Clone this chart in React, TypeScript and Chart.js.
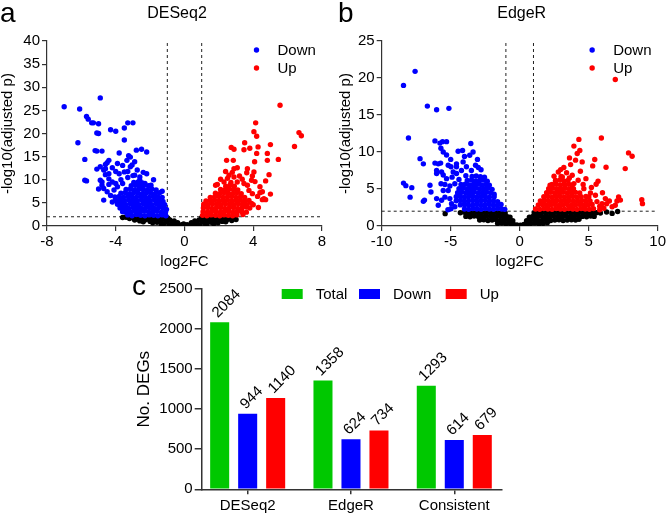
import React, { useEffect, useRef } from "react";
import { Chart, registerables } from "chart.js";
Chart.register(...registerables);

const FONT = '"Liberation Sans", Arial, Helvetica, sans-serif';
Chart.defaults.font.family = FONT;
Chart.defaults.font.size = 15;
Chart.defaults.color = "#000";

// cut-offs drawn as dashed lines
const log2fcCutoff = 1;
const padjLine = 2;

// ---------- DESeq2 volcano ----------
const deseqDown: number[][] = [
  [-7.0, 25.8], [-4.9, 27.7], [-6.1, 25.3], [-5.7, 23.7], [-5.6, 23.1], [-5.4, 22.3], [-5.3, 22.3], [-5.0, 22.1],
  [-5.1, 20.1], [-5.0, 20.0], [-4.3, 20.8], [-4.0, 20.5], [-3.5, 21.2], [-3.3, 22.3], [-3.0, 22.3], [-3.5, 18.6],
  [-6.2, 18.0], [-5.2, 16.3], [-5.1, 16.2], [-4.8, 16.2], [-5.8, 14.4], [-2.8, 16.4], [-2.5, 16.6], [-2.2, 16.0],
  [-3.8, 15.8], [-3.25, 15.2], [-3.15, 14.9], [-4.4, 14.2], [-4.5, 13.7], [-4.6, 13.3], [-4.9, 12.8], [-5.1, 12.3],
  [-2.9, 13.9], [-3.15, 12.8], [-5.8, 9.9], [-5.7, 9.75], [-4.7, 5.6], [-1.3, 7.5], [-3.44, 3.0], [-3.3, 2.8],
  [-4.7, 12.1], [-4.6, 12.4], [-4.2, 12.6], [-4.0, 11.8], [-3.8, 11.3], [-3.5, 11.7], [-2.75, 12.1], [-2.4, 11.6],
  [-2.2, 11.3], [-2.6, 10.6], [-4.9, 9.9], [-4.8, 9.5], [-4.4, 10.2], [-4.2, 9.5], [-4.0, 9.2], [-4.6, 11.1],
  [-4.4, 11.3], [-1.8, 10.0], [-1.95, 8.8], [-2.3, 9.2], [-4.2, 5.2], [-4.0, 5.6], [-4.3, 6.6], [-4.5, 7.4],
  [-4.7, 8.1], [-4.8, 8.8], [-3.6, 3.75], [-3.8, 4.8], [-3.35, 14.2], [-3.05, 13.2], [-3.6, 13.1], [-3.9, 13.5],
  [-3.3, 10.5], [-3.0, 10.9], [-2.6, 9.9], [-3.7, 10.0], [-3.9, 8.5], [-4.1, 7.8], [-3.3, 11.8], [-2.9, 11.0],
  [-5.0, 8.0], [-4.4, 9.0], [-3.6, 9.2],
  [-3.3, 2.4], [-3.05, 2.2], [-2.8, 2.5], [-2.55, 2.3], [-2.3, 2.2], [-2.05, 2.4], [-1.8, 2.3], [-1.55, 2.2], [-1.3, 2.4], [-1.08, 2.2],
  [-3.6, 3.1], [-3.35, 3.3], [-3.1, 3.0], [-2.85, 3.2], [-2.6, 3.0], [-2.35, 3.2], [-2.1, 3.1], [-1.85, 3.0], [-1.6, 3.2], [-1.35, 3.0], [-1.1, 3.1],
  [-3.75, 3.9], [-3.5, 4.0], [-3.25, 3.8], [-3.0, 4.0], [-2.75, 3.9], [-2.5, 3.8], [-2.25, 4.0], [-2.0, 3.9], [-1.75, 3.8], [-1.5, 4.0], [-1.25, 3.9], [-1.05, 3.6],
  [-3.9, 4.7], [-3.65, 4.8], [-3.4, 4.6], [-3.15, 4.8], [-2.9, 4.7], [-2.65, 4.6], [-2.4, 4.8], [-2.15, 4.7], [-1.9, 4.6], [-1.65, 4.8], [-1.4, 4.7], [-1.15, 4.6],
  [-4.0, 5.5], [-3.75, 5.6], [-3.5, 5.4], [-3.25, 5.6], [-3.0, 5.5], [-2.75, 5.4], [-2.5, 5.6], [-2.25, 5.5], [-2.0, 5.4], [-1.75, 5.6], [-1.5, 5.5], [-1.25, 5.3],
  [-4.05, 6.3], [-3.8, 6.4], [-3.55, 6.2], [-3.3, 6.4], [-3.05, 6.3], [-2.8, 6.2], [-2.55, 6.4], [-2.3, 6.3], [-2.05, 6.2], [-1.8, 6.4], [-1.55, 6.3], [-1.3, 6.2],
  [-3.7, 7.1], [-3.45, 7.2], [-3.2, 7.0], [-2.95, 7.2], [-2.7, 7.1], [-2.45, 7.0], [-2.2, 7.2], [-1.95, 7.1], [-1.7, 7.0], [-1.45, 7.2],
  [-3.4, 7.9], [-3.15, 8.0], [-2.9, 7.8], [-2.65, 8.0], [-2.4, 7.9], [-2.15, 7.8], [-1.9, 8.0], [-1.65, 7.8],
  [-3.1, 8.7], [-2.85, 8.8], [-2.6, 8.6], [-2.35, 8.8], [-2.1, 8.7],
  [-2.95, 9.4], [-2.7, 9.5], [-2.45, 9.3],
];

const deseqUp: number[][] = [
  [5.56, 26.1], [4.14, 22.3], [4.04, 20.4], [4.2, 19.4], [6.66, 20.2], [6.8, 19.5], [6.4, 17.2], [2.72, 17.0],
  [2.88, 16.6], [3.5, 18.0], [5.0, 17.6], [3.46, 16.5], [3.8, 16.8], [4.28, 17.1], [4.2, 15.7], [4.82, 15.7],
  [5.46, 14.4], [4.82, 14.2], [2.84, 14.2], [2.45, 14.2], [4.08, 13.9], [3.07, 12.6], [3.66, 12.4], [2.39, 11.8],
  [3.62, 11.5], [3.95, 10.8], [4.92, 11.1], [4.72, 9.75], [5.0, 6.9], [4.53, 5.7], [4.72, 5.7],
  [2.59, 11.0], [2.78, 11.6], [2.88, 10.6], [2.3, 9.5], [1.91, 9.0], [1.81, 8.8], [4.39, 8.5], [4.53, 7.4],
  [4.39, 7.2], [3.07, 9.5], [3.36, 10.1], [3.66, 8.8], [3.75, 7.7], [3.95, 7.0], [4.04, 11.7], [3.46, 9.2],
  [2.88, 12.4], [4.62, 5.9], [3.2, 10.8], [2.5, 10.3], [4.1, 9.6], [3.9, 9.9], [2.1, 10.1], [4.25, 6.4],
  [4.0, 4.6], [3.8, 3.9], [3.6, 3.0], [3.4, 2.5], [4.3, 4.0],
  [1.05, 2.3], [1.3, 2.2], [1.55, 2.4], [1.8, 2.3], [2.05, 2.2], [2.3, 2.4], [2.55, 2.3], [2.8, 2.2], [3.05, 2.4],
  [1.08, 3.1], [1.33, 3.0], [1.58, 3.2], [1.83, 3.1], [2.08, 3.0], [2.33, 3.2], [2.58, 3.1], [2.83, 3.0], [3.08, 3.2], [3.33, 3.1],
  [1.1, 3.9], [1.35, 4.0], [1.6, 3.8], [1.85, 3.9], [2.1, 4.0], [2.35, 3.8], [2.6, 3.9], [2.85, 4.0], [3.1, 3.8], [3.35, 3.9], [3.6, 4.1],
  [1.12, 4.7], [1.37, 4.6], [1.62, 4.8], [1.87, 4.7], [2.12, 4.6], [2.37, 4.8], [2.62, 4.7], [2.87, 4.6], [3.12, 4.8], [3.37, 4.7], [3.62, 4.6], [3.9, 4.9],
  [1.25, 5.4], [1.5, 5.5], [1.75, 5.6], [2.0, 5.4], [2.25, 5.5], [2.5, 5.6], [2.75, 5.4], [3.0, 5.5], [3.25, 5.6], [3.5, 5.4], [3.75, 5.5],
  [1.5, 6.2], [1.75, 6.3], [2.0, 6.4], [2.25, 6.2], [2.5, 6.3], [2.75, 6.4], [3.0, 6.2], [3.25, 6.3], [3.5, 6.2],
  [1.8, 7.1], [2.05, 7.0], [2.3, 7.2], [2.55, 7.1], [2.8, 7.0], [3.05, 7.2], [3.3, 7.0],
  [2.1, 7.9], [2.35, 7.8], [2.6, 8.0], [2.85, 7.9], [3.1, 7.8],
  [2.4, 8.6], [2.65, 8.8], [2.9, 8.6], [2.7, 9.4],
];

const deseqNS: number[][] = [
  [-3.4, 1.9], [-3.2, 1.6], [-3.0, 1.8], [-2.75, 1.5], [-2.5, 1.85], [-2.3, 1.3], [-2.25, 1.75], [-2.0, 1.0],
  [-2.0, 1.8], [-1.8, 1.4], [-1.75, 1.9], [-1.6, 0.8], [-1.55, 1.6], [-1.4, 1.1], [-1.3, 1.85], [-1.2, 0.5],
  [-1.15, 1.45], [-1.05, 0.9], [-1.0, 1.8], [-0.9, 0.3], [-0.85, 1.3], [-0.7, 0.7], [-0.6, 1.1], [-0.5, 0.3],
  [-0.4, 0.7], [-0.3, 0.15], [-0.15, 0.3], [0, 0.05], [0.15, 0.3], [0.3, 0.15], [0.4, 0.7], [0.5, 0.3],
  [0.6, 1.1], [0.7, 0.6], [0.85, 1.3], [0.9, 0.3], [1.0, 1.8], [1.05, 0.9], [1.15, 1.5], [1.2, 0.5],
  [1.35, 1.1], [1.4, 1.8], [1.55, 0.8], [1.6, 1.5], [1.75, 1.1], [1.85, 1.8], [1.95, 0.7], [2.05, 1.4],
  [2.2, 1.0], [2.3, 1.7], [2.45, 1.3], [2.6, 1.6], [2.75, 1.2], [2.9, 1.6], [3.0, 1.4],
  [-2.9, 1.3], [-2.6, 1.1], [-2.4, 0.9], [-1.85, 0.7], [-1.35, 0.4], [-0.95, 1.6], [-0.75, 0.2], [0.75, 0.2],
  [1.3, 0.4], [1.7, 0.5], [2.0, 1.85], [2.4, 0.9], [2.7, 1.85], [1.65, 1.9], [1.25, 1.85], [-1.5, 1.95],
  [-2.1, 1.45], [-3.6, 1.85], [-0.05, 0.45],
];

// ---------- EdgeR volcano ----------
const edgerDown: number[][] = [
  [-7.58, 20.9], [-8.42, 19.0], [-6.69, 16.2], [-6.02, 15.7], [-5.13, 15.9], [-8.06, 11.9], [-6.14, 11.5], [-5.78, 11.2],
  [-5.59, 11.4], [-5.3, 11.4], [-5.71, 10.5], [-5.54, 10.0], [-5.3, 9.6], [-4.46, 10.1], [-4.14, 10.2], [-3.54, 11.15],
  [-3.38, 10.0], [-3.62, 9.57], [-3.06, 9.0], [-7.22, 9.1], [-6.98, 8.4], [-6.14, 8.5], [-5.9, 8.4], [-5.73, 8.5],
  [-5.18, 8.2], [-4.98, 8.0], [-4.58, 8.4], [-4.1, 8.66], [-6.02, 7.5], [-6.02, 7.1], [-5.66, 7.3], [-5.54, 6.9],
  [-8.42, 5.8], [-8.25, 5.45], [-7.82, 5.18], [-7.94, 3.9], [-6.98, 3.33], [-6.43, 4.6],
  [-4.82, 7.3], [-4.58, 7.1], [-4.22, 7.5], [-3.86, 8.0], [-3.5, 7.5], [-5.7, 5.7], [-5.42, 5.6], [-5.06, 5.4],
  [-4.7, 5.7], [-6.02, 3.7], [-5.66, 3.47], [-5.42, 3.9], [-5.06, 3.7], [-4.94, 3.0], [-4.98, 2.34], [-5.54, 4.8],
  [-5.18, 4.8], [-4.46, 4.37], [-4.58, 8.0], [-6.9, 3.5], [-5.3, 6.4], [-4.9, 6.6], [-4.4, 6.3], [-3.2, 8.2],
  [-2.8, 7.6], [-3.0, 7.9], [-3.9, 6.8], [-4.0, 9.4], [-5.0, 9.0], [-6.5, 5.5], [-5.9, 2.8], [-4.7, 2.6], [-5.2, 2.2],
  [-4.0, 2.3], [-3.7, 2.25], [-3.4, 2.35], [-3.1, 2.3], [-2.8, 2.25], [-2.5, 2.35], [-2.2, 2.3], [-1.9, 2.25], [-1.6, 2.35], [-1.3, 2.3], [-1.08, 2.25],
  [-4.3, 2.85], [-4.0, 2.9], [-3.7, 2.8], [-3.4, 2.85], [-3.1, 2.9], [-2.8, 2.8], [-2.5, 2.85], [-2.2, 2.9], [-1.9, 2.8], [-1.6, 2.85], [-1.35, 2.9],
  [-4.6, 3.4], [-4.3, 3.45], [-4.0, 3.35], [-3.7, 3.4], [-3.4, 3.45], [-3.1, 3.35], [-2.8, 3.4], [-2.5, 3.45], [-2.2, 3.35], [-1.9, 3.4], [-1.6, 3.3],
  [-4.6, 3.95], [-4.3, 4.0], [-4.0, 3.9], [-3.7, 3.95], [-3.4, 4.0], [-3.1, 3.9], [-2.8, 3.95], [-2.5, 4.0], [-2.2, 3.9], [-1.85, 3.95],
  [-4.5, 4.5], [-4.2, 4.55], [-3.9, 4.45], [-3.6, 4.5], [-3.3, 4.55], [-3.0, 4.45], [-2.7, 4.5], [-2.4, 4.55], [-2.1, 4.45], [-1.85, 4.3],
  [-4.4, 5.05], [-4.1, 5.1], [-3.8, 5.0], [-3.5, 5.05], [-3.2, 5.1], [-2.9, 5.0], [-2.6, 5.05], [-2.3, 5.1], [-2.0, 4.95],
  [-4.25, 5.6], [-3.95, 5.65], [-3.65, 5.55], [-3.35, 5.6], [-3.05, 5.65], [-2.75, 5.55], [-2.45, 5.6], [-2.2, 5.5],
  [-3.8, 6.15], [-3.5, 6.2], [-3.2, 6.1], [-2.9, 6.15], [-2.6, 6.2], [-2.35, 6.05],
  [-3.45, 6.7], [-3.15, 6.75], [-2.85, 6.65], [-2.55, 6.6],
];

const edgerUp: number[][] = [
  [6.93, 19.8], [4.29, 11.7], [5.92, 11.9], [3.93, 10.8], [4.36, 10.2], [4.17, 9.79], [3.61, 9.2], [4.05, 8.9],
  [4.53, 8.66], [3.69, 8.3], [5.44, 8.98], [5.29, 8.12], [6.26, 7.94], [7.89, 9.88], [8.15, 9.43], [7.65, 7.76],
  [2.97, 7.62], [2.8, 7.3], [2.49, 6.72], [3.09, 6.63], [5.68, 6.05], [5.54, 5.64], [6.21, 3.7], [6.5, 3.38],
  [7.17, 3.92], [7.05, 3.38], [6.93, 2.8], [8.85, 3.56], [8.9, 3.02], [5.8, 2.66],
  [3.81, 6.86], [4.24, 6.18], [3.93, 5.73], [4.65, 5.05], [5.13, 4.46], [5.49, 4.15], [5.01, 3.92], [5.97, 3.02],
  [6.0, 4.5], [6.3, 3.0], [5.6, 3.3], [6.7, 2.6], [7.3, 3.5], [3.4, 7.2], [3.2, 7.9], [4.4, 7.4], [4.8, 6.4],
  [4.6, 5.6], [5.2, 5.2], [3.6, 6.5], [2.6, 6.1], [2.2, 5.5], [5.8, 2.2], [6.1, 2.4],
  [1.15, 2.3], [1.45, 2.25], [1.75, 2.35], [2.05, 2.3], [2.35, 2.25], [2.65, 2.35], [2.95, 2.3], [3.25, 2.25], [3.55, 2.35], [3.85, 2.3], [4.15, 2.25], [4.45, 2.35], [4.75, 2.3], [5.05, 2.25], [5.35, 2.35],
  [1.35, 2.85], [1.65, 2.9], [1.95, 2.8], [2.25, 2.85], [2.55, 2.9], [2.85, 2.8], [3.15, 2.85], [3.45, 2.9], [3.75, 2.8], [4.05, 2.85], [4.35, 2.9], [4.65, 2.8], [4.95, 2.85], [5.25, 2.9],
  [1.5, 3.4], [1.8, 3.45], [2.1, 3.35], [2.4, 3.4], [2.7, 3.45], [3.0, 3.35], [3.3, 3.4], [3.6, 3.45], [3.9, 3.35], [4.2, 3.4], [4.5, 3.45], [4.8, 3.35], [5.1, 3.4],
  [1.75, 3.95], [2.05, 4.0], [2.35, 3.9], [2.65, 3.95], [2.95, 4.0], [3.25, 3.9], [3.55, 3.95], [3.85, 4.0], [4.15, 3.9], [4.45, 3.95], [4.8, 4.0],
  [1.95, 4.5], [2.25, 4.55], [2.55, 4.45], [2.85, 4.5], [3.15, 4.55], [3.45, 4.45], [3.75, 4.5], [4.05, 4.55], [4.35, 4.45],
  [2.1, 5.05], [2.4, 5.1], [2.7, 5.0], [3.0, 5.05], [3.3, 5.1], [3.6, 5.0], [3.9, 5.05],
  [2.35, 5.6], [2.65, 5.65], [2.95, 5.55], [3.25, 5.6], [3.55, 5.65], [3.8, 5.55],
  [2.6, 6.15], [2.9, 6.2], [3.2, 6.1], [3.5, 6.15], [3.0, 6.7],
];

const edgerNS: number[][] = [
  [-4.3, 1.8], [-4.0, 1.85], [-3.7, 1.75], [-3.4, 1.8], [-3.1, 1.85], [-2.8, 1.75], [-2.5, 1.8], [-2.2, 1.85], [-1.9, 1.75], [-1.6, 1.8], [-1.3, 1.85], [-1.05, 1.75],
  [1.05, 1.8], [1.35, 1.75], [1.65, 1.85], [1.95, 1.8], [2.25, 1.75], [2.55, 1.85], [2.85, 1.8], [3.15, 1.75], [3.45, 1.85], [3.75, 1.8], [4.05, 1.75], [4.35, 1.85], [4.65, 1.8], [4.95, 1.75], [5.25, 1.85], [5.55, 1.8], [5.85, 1.75],
  [6.3, 1.9], [6.7, 1.7], [7.1, 1.95], [-5.4, 1.67],
  [-3.9, 1.3], [-3.6, 1.25], [-3.3, 1.35], [-3.0, 1.3], [-2.7, 1.25], [-2.4, 1.35], [-2.1, 1.3], [-1.8, 1.25], [-1.5, 1.35], [-1.2, 1.3], [-0.9, 1.25], [-0.7, 1.2],
  [0.7, 1.2], [0.95, 1.3], [1.25, 1.25], [1.55, 1.35], [1.85, 1.3], [2.15, 1.25], [2.45, 1.35], [2.75, 1.3], [3.05, 1.25], [3.35, 1.35], [3.65, 1.3], [3.95, 1.25], [4.25, 1.35], [4.55, 1.3], [4.85, 1.25], [5.15, 1.35], [5.4, 1.3],
  [-2.9, 0.8], [-2.6, 0.85], [-2.3, 0.75], [-2.0, 0.8], [-1.7, 0.85], [-1.4, 0.75], [-1.1, 0.8], [-0.8, 0.85], [-0.5, 0.7],
  [0.5, 0.7], [0.75, 0.8], [1.05, 0.85], [1.35, 0.75], [1.65, 0.8], [1.95, 0.85], [2.25, 0.75], [2.55, 0.8], [2.85, 0.85], [3.15, 0.75], [3.45, 0.8], [3.75, 0.85], [4.05, 0.8], [4.3, 0.9],
  [-1.6, 0.35], [-1.3, 0.4], [-1.0, 0.3], [-0.7, 0.35], [-0.45, 0.25], [-0.2, 0.15], [0.05, 0.1], [0.3, 0.2], [0.55, 0.3], [0.8, 0.35], [1.1, 0.4], [1.4, 0.3], [1.7, 0.35], [2.0, 0.45],
  [-0.1, 0.05], [0.15, 0.05],
];

// ---------- DEG counts ----------
const barCategories = ["DESeq2", "EdgeR", "Consistent"];
const totalDEGs = [2084, 1358, 1293];
const downDEGs = [944, 624, 614];
const upDEGs = [1140, 734, 679];

// ---------- plugins ----------
const panelTextPlugin = {
  id: "panelText",
  afterDraw(chart: any, _a: any, opts: any) {
    const ctx = chart.ctx;
    const items = opts.items || [];
    for (let i = 0; i < items.length; i++) {
      const it = items[i];
      ctx.save();
      ctx.font = it.font;
      ctx.fillStyle = "#000";
      ctx.textAlign = it.align;
      ctx.textBaseline = "alphabetic";
      ctx.fillText(it.text, it.x, it.y);
      ctx.restore();
    }
  },
};

const dotLegendPlugin = {
  id: "dotLegend",
  afterDraw(chart: any, _a: any, opts: any) {
    if (!opts.show) return;
    const { ctx, chartArea } = chart;
    for (let i = 0; i < 2; i++) {
      const ds = chart.data.datasets[i];
      const y = chartArea.top + 9 + i * 18;
      ctx.save();
      ctx.fillStyle = ds.backgroundColor;
      ctx.beginPath();
      ctx.arc(chartArea.right - 65.5, y, 2.7, 0, Math.PI * 2);
      ctx.fill();
      ctx.fillStyle = "#000";
      ctx.font = `15px ${FONT}`;
      ctx.textAlign = "left";
      ctx.textBaseline = "middle";
      ctx.fillText(ds.label, chartArea.right - 44.5, y + 1);
      ctx.restore();
    }
  },
};

const barLegendPlugin = {
  id: "barLegend",
  afterDraw(chart: any, _a: any, opts: any) {
    if (!opts.show) return;
    const { ctx, chartArea } = chart;
    const offs = [80, 157.3, 244];
    chart.data.datasets.forEach((ds: any, i: number) => {
      const x = chartArea.left + offs[i];
      ctx.save();
      ctx.fillStyle = ds.backgroundColor;
      ctx.fillRect(x, chartArea.top, 21, 10);
      ctx.fillStyle = "#000";
      ctx.font = `15px ${FONT}`;
      ctx.textAlign = "left";
      ctx.textBaseline = "middle";
      ctx.fillText(ds.label, x + 34, chartArea.top + 6);
      ctx.restore();
    });
  },
};

const valueLabelPlugin = {
  id: "valueLabels",
  afterDatasetsDraw(chart: any, _a: any, opts: any) {
    if (!opts.show) return;
    const ctx = chart.ctx;
    chart.data.datasets.forEach((ds: any, i: number) => {
      const meta = chart.getDatasetMeta(i);
      meta.data.forEach((el: any, j: number) => {
        ctx.save();
        ctx.translate(el.x - 2, el.y - 4);
        ctx.rotate(-Math.PI / 4);
        ctx.font = `15px ${FONT}`;
        ctx.fillStyle = "#000";
        ctx.textAlign = "left";
        ctx.textBaseline = "alphabetic";
        ctx.fillText(String(ds.data[j].y), 0, 0);
        ctx.restore();
      });
    });
  },
};

const AXIS = "#333";

function pts(arr: number[][]) {
  return arr.map(([x, y]) => ({ x, y }));
}

function volcanoConfig(p: any) {
  const dot = { pointRadius: 2.7, pointHoverRadius: 2.7, borderWidth: 0, pointBorderWidth: 0 };
  const dash = { showLine: true, borderColor: "#222", borderWidth: 1, borderDash: [3, 3], pointRadius: 0, fill: false };
  return {
    type: "scatter",
    data: {
      datasets: [
        { label: "Down", data: pts(p.down), backgroundColor: "#0000FF", ...dot },
        { label: "Up", data: pts(p.up), backgroundColor: "#FF0000", ...dot },
        { label: "NS", data: pts(p.ns), backgroundColor: "#000000", ...dot },
        { label: "fcL", data: [{ x: -log2fcCutoff, y: 0 }, { x: -log2fcCutoff, y: p.yMax }], ...dash },
        { label: "fcR", data: [{ x: log2fcCutoff, y: 0 }, { x: log2fcCutoff, y: p.yMax }], ...dash },
        { label: "padj", data: [{ x: p.xMin, y: padjLine }, { x: p.xMax, y: padjLine }], ...dash },
      ],
    },
    options: {
      responsive: false,
      animation: false,
      events: [],
      layout: { padding: { left: 0, top: 41, right: p.padRight, bottom: 0 } },
      plugins: {
        legend: { display: false },
        tooltip: { enabled: false },
        dotLegend: { show: true },
        panelText: { items: p.texts },
      },
      scales: {
        x: {
          type: "linear",
          min: p.xMin,
          max: p.xMax,
          ticks: { stepSize: p.xStep, font: { size: 15 }, color: "#000", padding: 2 },
          grid: { drawOnChartArea: false, drawTicks: true, tickLength: 5, color: AXIS, lineWidth: 1.2 },
          border: { display: true, color: AXIS, width: 1.2 },
          title: { display: true, text: "log2FC", font: { size: 15, lineHeight: 1 }, color: "#000", padding: { top: 0, bottom: 1 } },
          afterFit: (s: any) => { s.height = 44; },
        },
        y: {
          type: "linear",
          min: 0,
          max: p.yMax,
          ticks: { stepSize: 5, font: { size: 15 }, color: "#000", padding: 2 },
          grid: { drawOnChartArea: false, drawTicks: true, tickLength: 5, color: AXIS, lineWidth: 1.2 },
          border: { display: true, color: AXIS, width: 1.2 },
          title: { display: true, text: "-log10(adjusted p)", font: { size: 15, lineHeight: 1 }, color: "#000", padding: { top: 0, bottom: 0 } },
          afterFit: (s: any) => { s.width = p.yWidth; },
        },
      },
    },
    plugins: [dotLegendPlugin, panelTextPlugin],
  };
}

function barConfig() {
  const bar = { categoryPercentage: 0.813, barPercentage: 0.68, borderWidth: 0 };
  return {
    type: "bar",
    data: {
      datasets: [
        { label: "Total", data: barCategories.map((_, i) => ({ x: i, y: totalDEGs[i] })), backgroundColor: "#00C800", ...bar },
        { label: "Down", data: barCategories.map((_, i) => ({ x: i, y: downDEGs[i] })), backgroundColor: "#0000FF", ...bar },
        { label: "Up", data: barCategories.map((_, i) => ({ x: i, y: upDEGs[i] })), backgroundColor: "#FF0000", ...bar },
      ],
    },
    options: {
      responsive: false,
      animation: false,
      events: [],
      layout: { padding: { left: 0, top: 19, right: 10.3, bottom: 0 } },
      plugins: {
        legend: { display: false },
        tooltip: { enabled: false },
        barLegend: { show: true },
        valueLabels: { show: true },
        panelText: { items: [{ text: "c", x: 0, y: 25, font: `28px ${FONT}`, align: "left" }] },
      },
      scales: {
        x: {
          type: "linear",
          min: -0.445,
          max: 2.459,
          offset: false,
          afterBuildTicks: (s: any) => { s.ticks = barCategories.map((_, i) => ({ value: i })); },
          ticks: { font: { size: 15 }, color: "#000", padding: 3, autoSkip: false, maxRotation: 0,
            callback: (v: any) => barCategories[Math.round(Number(v))] ?? "" },
          grid: { drawOnChartArea: false, drawTicks: true, tickLength: 5, color: AXIS, lineWidth: 1.5, offset: false },
          border: { display: true, color: AXIS, width: 1.5 },
          afterFit: (s: any) => { s.height = 28.7; },
        },
        y: {
          min: 0,
          max: 2500,
          ticks: { stepSize: 500, font: { size: 15 }, color: "#000", padding: 2, callback: (v: any) => String(v) },
          grid: { drawOnChartArea: false, drawTicks: true, tickLength: 7, color: AXIS, lineWidth: 1.5 },
          border: { display: true, color: AXIS, width: 1.5 },
          title: { display: true, text: "No. DEGs", font: { size: 17 }, color: "#000", padding: { top: 2, bottom: 0 } },
          afterFit: (s: any) => { s.width = 69.7; },
        },
      },
    },
    plugins: [barLegendPlugin, valueLabelPlugin, panelTextPlugin],
  };
}

export default function App() {
  const aRef = useRef<HTMLCanvasElement>(null);
  const bRef = useRef<HTMLCanvasElement>(null);
  const cRef = useRef<HTMLCanvasElement>(null);

  useEffect(() => {
    const charts: Chart[] = [];
    charts.push(
      new Chart(aRef.current as HTMLCanvasElement, volcanoConfig({
        down: deseqDown, up: deseqUp, ns: deseqNS,
        xMin: -8, xMax: 8, xStep: 4, yMax: 40, yWidth: 47, padRight: 16,
        texts: [
          { text: "a", x: 0, y: 22, font: `28px ${FONT}`, align: "left" },
          { text: "DESeq2", x: 177, y: 18, font: `16px ${FONT}`, align: "center" },
        ],
      }) as any)
    );
    charts.push(
      new Chart(bRef.current as HTMLCanvasElement, volcanoConfig({
        down: edgerDown, up: edgerUp, ns: edgerNS,
        xMin: -10, xMax: 10, xStep: 5, yMax: 25, yWidth: 43.7, padRight: 8.7,
        texts: [
          { text: "b", x: 0, y: 22, font: `28px ${FONT}`, align: "left" },
          { text: "EdgeR", x: 183.7, y: 18, font: `16px ${FONT}`, align: "center" },
        ],
      }) as any)
    );
    charts.push(new Chart(cRef.current as HTMLCanvasElement, barConfig() as any));
    return () => charts.forEach((c) => c.destroy());
  }, []);

  const abs = (left: number, top: number, w: number, h: number): React.CSSProperties => ({
    position: "absolute", left, top, width: w, height: h, display: "block",
  });

  return (
    <div style={{ position: "fixed", left: 0, top: 0, width: 668, height: 518, background: "#fff", overflow: "hidden" }}>
      <canvas ref={aRef} width={338} height={270} style={abs(0, 0, 338, 270)} />
      <canvas ref={bRef} width={330} height={270} style={abs(338, 0, 330, 270)} />
      <canvas ref={cRef} width={380} height={248} style={abs(132, 270, 380, 248)} />
    </div>
  );
}
